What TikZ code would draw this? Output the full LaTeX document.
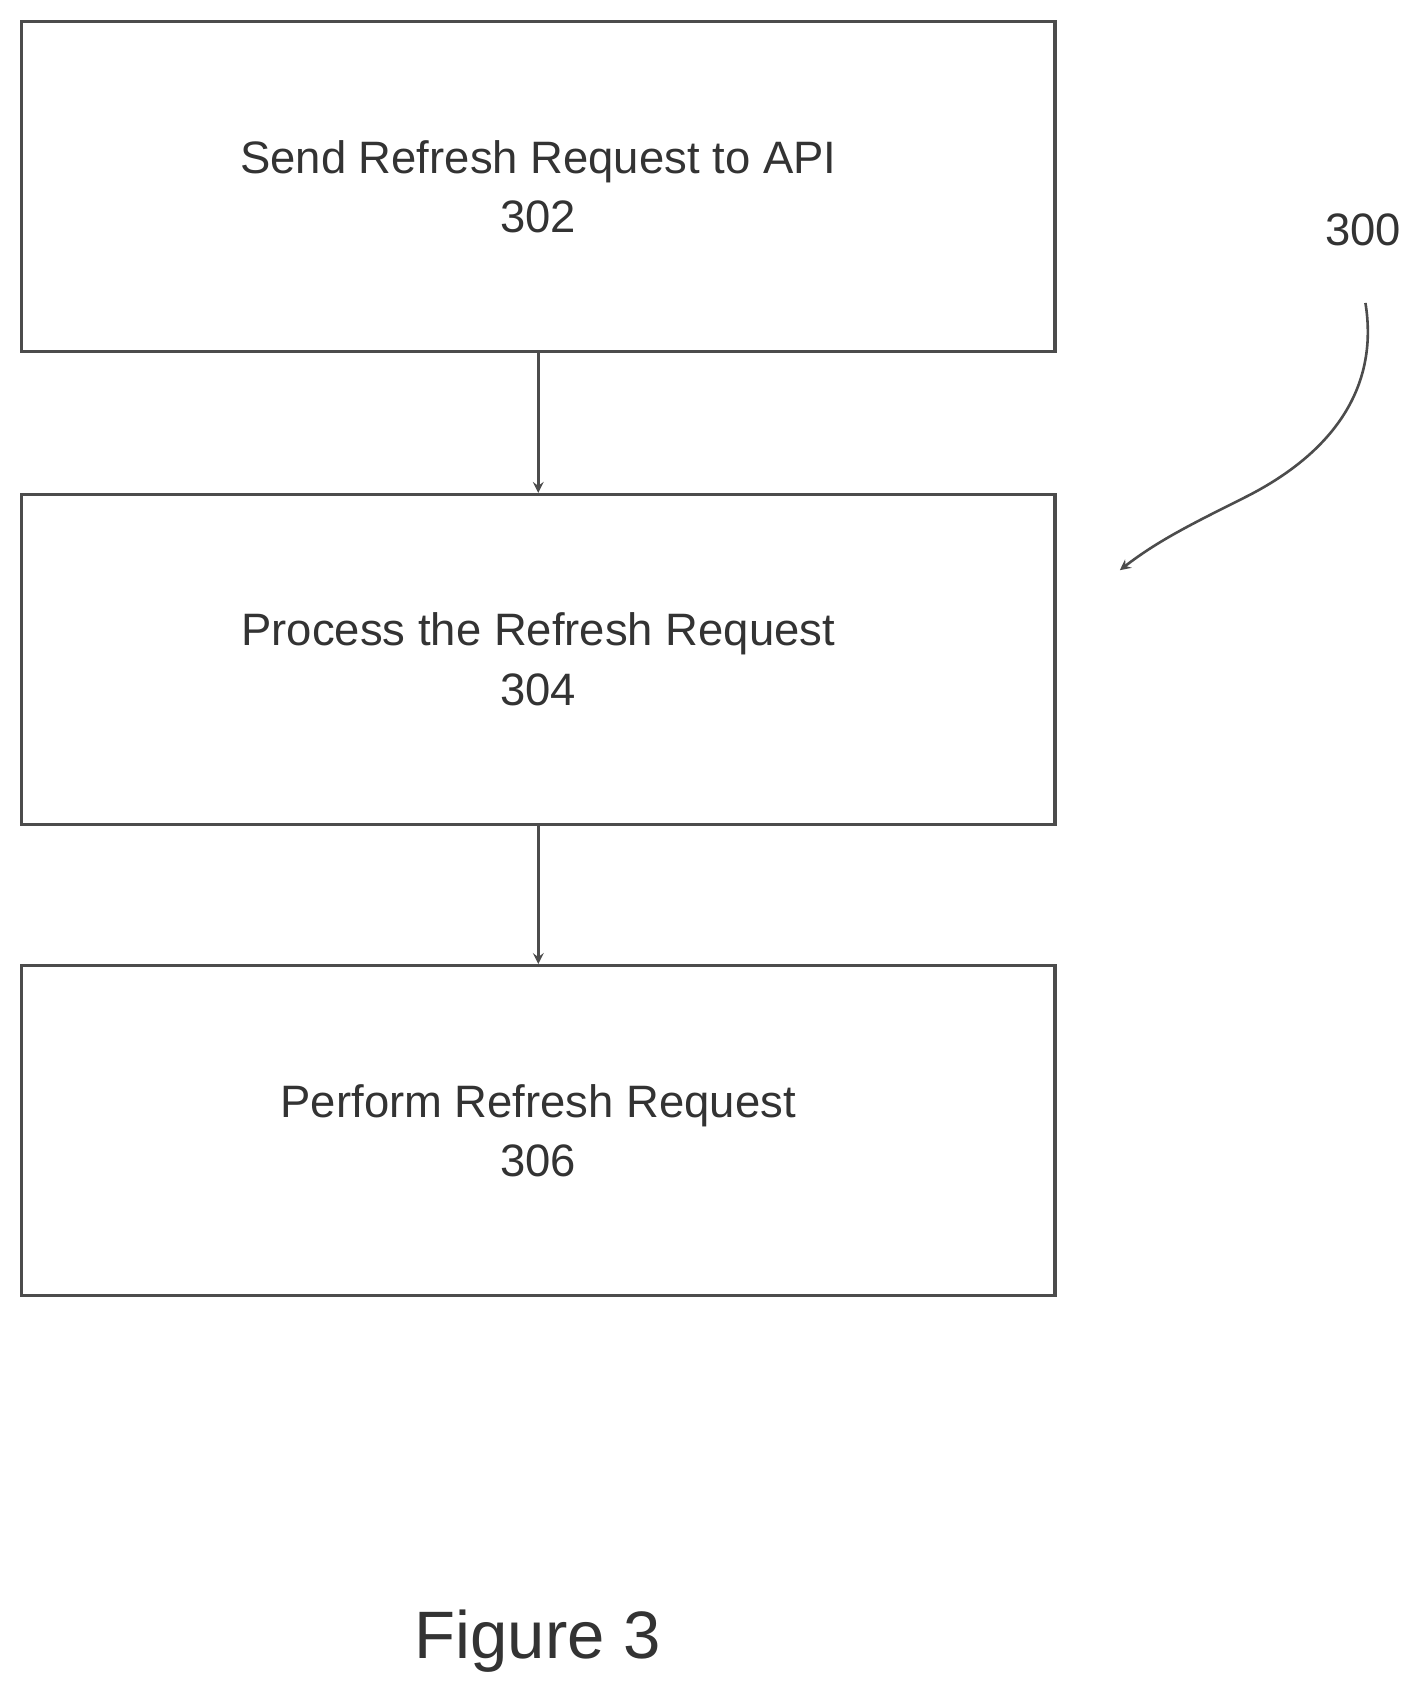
\documentclass[tikz,border=0pt]{standalone}
\usepackage{fontspec}
\setmainfont{Liberation Sans}
\usetikzlibrary{positioning}

\begin{document}
\begin{tikzpicture}[x=0.5pt,y=-0.5pt,->,>=stealth,semithick,
  stepbox/.style={draw=black!70,line width=1.5pt,minimum width=477.5pt,minimum height=152.5pt,
    align=center,text=black!80,font=\fontsize{21}{27.5}\selectfont},
  flow/.style={draw=black!70,line width=1.2pt}]
\useasboundingbox (0,0) rectangle (1310,1562);
\node[stepbox] (302) at (497.5,172.5) {Send Refresh Request to API\\302};
\node[stepbox] (304) at (497.5,609.5) {Process the Refresh Request\\304};
\node[stepbox] (306) at (497.5,1045) {Perform Refresh Request\\306};
\node[text=black!80,font=\fontsize{21}{25}\selectfont] (300) at (1260,212) {300};
\node[text=black!80,font=\fontsize{31}{36}\selectfont] (fig) at (497,1517) {Figure 3};
\coordinate (tail) at (1262,280);
\coordinate (head) at (1035,527);
\path (302) edge[flow] (304);
\path (304) edge[flow] (306);
\draw[flow] (tail) .. controls (1275,360) and (1230,420) .. (1150,460) .. controls (1100,485) and (1070,500) .. (head);
\end{tikzpicture}
\end{document}
